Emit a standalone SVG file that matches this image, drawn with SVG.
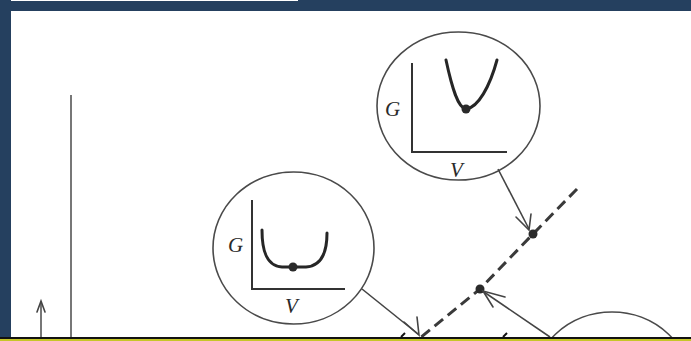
<svg xmlns="http://www.w3.org/2000/svg" width="691" height="341" viewBox="0 0 691 341">
<defs>
<style>
.frame{fill:#25405f}
.ring{fill:none;stroke:#4a4a4a;stroke-width:1.6}
.axis{fill:none;stroke:#333;stroke-width:2}
.curve{fill:none;stroke:#262626;stroke-width:3;stroke-linecap:round}
.dot{fill:#2a2a2a}
.conn{fill:none;stroke:#444;stroke-width:1.6}
.head{fill:none;stroke:#444;stroke-width:1.6;stroke-linecap:round}
.dash{fill:none;stroke:#3a3a3a;stroke-width:3;stroke-dasharray:11 6}
.lbl{font-family:"Liberation Serif","DejaVu Serif",serif;font-style:italic;font-size:21px;fill:#2a2a2a}
</style>
</defs>
<rect width="691" height="341" fill="#fff"/>
<g id="frame">
<rect class="frame" x="0" y="1" width="691" height="10"/>
<rect class="frame" x="298" y="0" width="393" height="1"/>
<rect class="frame" x="0" y="0" width="11" height="337"/>
</g>
<g id="left-axis">
<line x1="71" y1="95" x2="71" y2="337" stroke="#555" stroke-width="1.6"/>
<line x1="41" y1="302" x2="41" y2="337" stroke="#555" stroke-width="1.6"/>
<polyline class="head" points="37,312 41,301 45,312"/>
</g>
<g id="node-top">
<ellipse class="ring" cx="458.5" cy="106" rx="81.5" ry="74"/>
<polyline class="axis" points="412,63 412,152 507,152"/>
<path class="curve" d="M446,60 C452,88 458,108 466,109 C478,108 490,86 497,60"/>
<circle class="dot" cx="466" cy="109" r="4.5"/>
<text class="lbl" x="385" y="116">G</text>
<text class="lbl" x="450" y="177">V</text>
</g>
<g id="node-left">
<ellipse class="ring" cx="293.5" cy="248" rx="80.5" ry="76"/>
<polyline class="axis" points="252,200 252,289 345,289"/>
<path class="curve" d="M262,230 C262,250 266,266 282,267 L306,267 C322,266 327,252 327,233"/>
<circle class="dot" cx="293" cy="267" r="4.5"/>
<text class="lbl" x="228" y="252">G</text>
<text class="lbl" x="285" y="313">V</text>
</g>
<g id="node-bottom-right">
<ellipse class="ring" cx="612" cy="388" rx="80" ry="76"/>
</g>
<g id="connectors">
<path class="dash" d="M577,189 L533,234 L480,289 L420,338"/>
<circle class="dot" cx="533" cy="234" r="4.5"/>
<circle class="dot" cx="480" cy="289" r="4.5"/>
<line class="conn" x1="498" y1="169" x2="529" y2="229"/>
<polyline class="head" points="516,217 529,230 531,214"/>
<line class="conn" x1="362" y1="289" x2="418" y2="334"/>
<polyline class="head" points="404,322 419,335 417,317"/>
<line class="conn" x1="550" y1="337" x2="484" y2="292"/>
<polyline class="head" points="493,307 483,291 505,297"/>
</g>
<g id="bottom-strip">
<rect x="0" y="337" width="691" height="2" fill="#111"/>
<rect x="0" y="339" width="691" height="2" fill="#c6c628"/>
<line x1="401" y1="337" x2="405" y2="333" stroke="#111" stroke-width="2"/>
<line x1="503" y1="337" x2="507" y2="333" stroke="#111" stroke-width="2"/>
</g>
</svg>
